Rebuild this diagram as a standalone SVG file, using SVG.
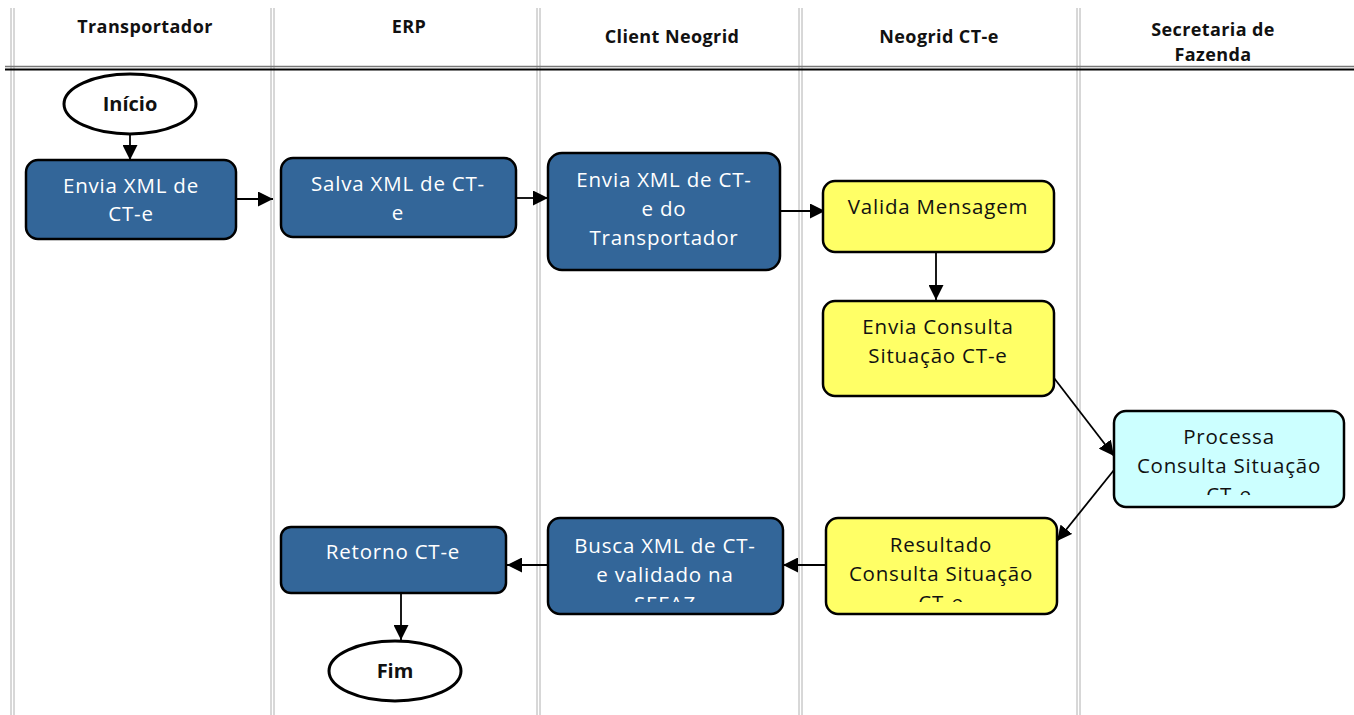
<svg xmlns="http://www.w3.org/2000/svg" width="1354" height="715" viewBox="0 0 1354 715">
<defs>
<style>
.lane{stroke:#b0b0b0;stroke-width:1;fill:none}
.hdr{font-family:"Open Sans","Liberation Sans",sans-serif;font-weight:bold;font-size:18px;letter-spacing:0.4px;fill:#111;text-anchor:middle}
.box{stroke:#000;stroke-width:2.5}
.blue{fill:#336699}
.yel{fill:#ffff66}
.cyan{fill:#ccffff}
.t{font-family:"Open Sans","Liberation Sans",sans-serif;font-weight:400;font-size:20.5px;letter-spacing:0.8px;text-anchor:middle}
.tw{fill:#fff}
.tk{fill:#111}
.term{fill:#fff;stroke:#000;stroke-width:3}
.tt{font-family:"Open Sans","Liberation Sans",sans-serif;font-weight:bold;font-size:20px;text-anchor:middle;fill:#111}
.c{stroke:#000;stroke-width:1.8;fill:none}
</style>
<marker id="ah" viewBox="0 0 10 10" refX="10" refY="5" markerWidth="15" markerHeight="15" markerUnits="userSpaceOnUse" orient="auto"><path d="M0,0 L10,5 L0,10 z" fill="#000"/></marker>
<clipPath id="cp1"><rect x="1114" y="411" width="230" height="84"/></clipPath>
<clipPath id="cp2"><rect x="826" y="518" width="231" height="84"/></clipPath>
<clipPath id="cp3"><rect x="548" y="518" width="235" height="84"/></clipPath>
</defs>
<rect width="1354" height="715" fill="#fff"/>
<g id="lanes">
<line class="lane" x1="11" y1="8" x2="11" y2="715"/><line class="lane" x1="14" y1="8" x2="14" y2="715"/>
<line class="lane" x1="271" y1="8" x2="271" y2="715"/><line class="lane" x1="274" y1="8" x2="274" y2="715"/>
<line class="lane" x1="537" y1="8" x2="537" y2="715"/><line class="lane" x1="540" y1="8" x2="540" y2="715"/>
<line class="lane" x1="799" y1="8" x2="799" y2="715"/><line class="lane" x1="802" y1="8" x2="802" y2="715"/>
<line class="lane" x1="1077" y1="8" x2="1077" y2="715"/><line class="lane" x1="1080" y1="8" x2="1080" y2="715"/>
<line x1="5" y1="66.5" x2="1354" y2="66.5" stroke="#777" stroke-width="1.5"/>
<line x1="5" y1="69.5" x2="1354" y2="69.5" stroke="#000" stroke-width="1.8"/>
<text class="hdr" x="145" y="33">Transportador</text>
<text class="hdr" x="409" y="33">ERP</text>
<text class="hdr" x="672" y="43">Client Neogrid</text>
<text class="hdr" x="939" y="43">Neogrid CT-e</text>
<text class="hdr" x="1213" y="36">Secretaria de</text>
<text class="hdr" x="1213" y="61">Fazenda</text>
</g>
<g id="connectors">
<line class="c" x1="130" y1="134" x2="130" y2="160" marker-end="url(#ah)"/>
<line class="c" x1="230" y1="199" x2="273" y2="199" marker-end="url(#ah)"/>
<line class="c" x1="516" y1="198" x2="548" y2="198" marker-end="url(#ah)"/>
<line class="c" x1="780" y1="211" x2="825" y2="211" marker-end="url(#ah)"/>
<line class="c" x1="936" y1="252" x2="936" y2="300" marker-end="url(#ah)"/>
<line class="c" x1="1054" y1="378" x2="1114" y2="456" marker-end="url(#ah)"/>
<line class="c" x1="1114" y1="470" x2="1057" y2="541" marker-end="url(#ah)"/>
<line class="c" x1="826" y1="565" x2="783" y2="565" marker-end="url(#ah)"/>
<line class="c" x1="548" y1="565" x2="507" y2="565" marker-end="url(#ah)"/>
<line class="c" x1="401" y1="593" x2="401" y2="640" marker-end="url(#ah)"/>
</g>
<g id="inicio"><ellipse class="term" cx="130" cy="104" rx="66" ry="30"/><text class="tt" x="130" y="111">Início</text></g>
<g id="envia-xml"><rect class="box blue" x="26" y="160" width="210" height="79" rx="12"/><text class="t tw" x="131" y="193">Envia XML de</text><text class="t tw" x="131" y="221">CT-e</text></g>
<g id="salva-xml"><rect class="box blue" x="281" y="158" width="235" height="79" rx="12"/><text class="t tw" x="398" y="191">Salva XML de CT-</text><text class="t tw" x="398" y="220">e</text></g>
<g id="envia-xml-transp"><rect class="box blue" x="548" y="153" width="232" height="117" rx="14"/><text class="t tw" x="664" y="187">Envia XML de CT-</text><text class="t tw" x="664" y="216">e do</text><text class="t tw" x="664" y="245">Transportador</text></g>
<g id="valida"><rect class="box yel" x="823" y="181" width="231" height="71" rx="12"/><text class="t tk" x="938" y="214">Valida Mensagem</text></g>
<g id="envia-consulta"><rect class="box yel" x="823" y="301" width="231" height="95" rx="12"/><text class="t tk" x="938" y="334">Envia Consulta</text><text class="t tk" x="938" y="363">Situação CT-e</text></g>
<g id="processa"><rect class="box cyan" x="1114" y="411" width="230" height="96" rx="12"/><g clip-path="url(#cp1)"><text class="t tk" x="1229" y="444">Processa</text><text class="t tk" x="1229" y="473">Consulta Situação</text><text class="t tk" x="1229" y="502">CT-e</text></g></g>
<g id="resultado"><rect class="box yel" x="826" y="518" width="231" height="96" rx="12"/><g clip-path="url(#cp2)"><text class="t tk" x="941" y="552">Resultado</text><text class="t tk" x="941" y="581">Consulta Situação</text><text class="t tk" x="941" y="610">CT-e</text></g></g>
<g id="busca"><rect class="box blue" x="548" y="518" width="235" height="96" rx="12"/><g clip-path="url(#cp3)"><text class="t tw" x="665" y="553">Busca XML de CT-</text><text class="t tw" x="665" y="582">e validado na</text><text class="t tw" x="665" y="611">SEFAZ</text></g></g>
<g id="retorno"><rect class="box blue" x="281" y="527" width="225" height="66" rx="10"/><text class="t tw" x="393" y="559">Retorno CT-e</text></g>
<g id="fim"><ellipse class="term" cx="395" cy="671" rx="66" ry="30"/><text class="tt" x="395" y="678">Fim</text></g>
</svg>
